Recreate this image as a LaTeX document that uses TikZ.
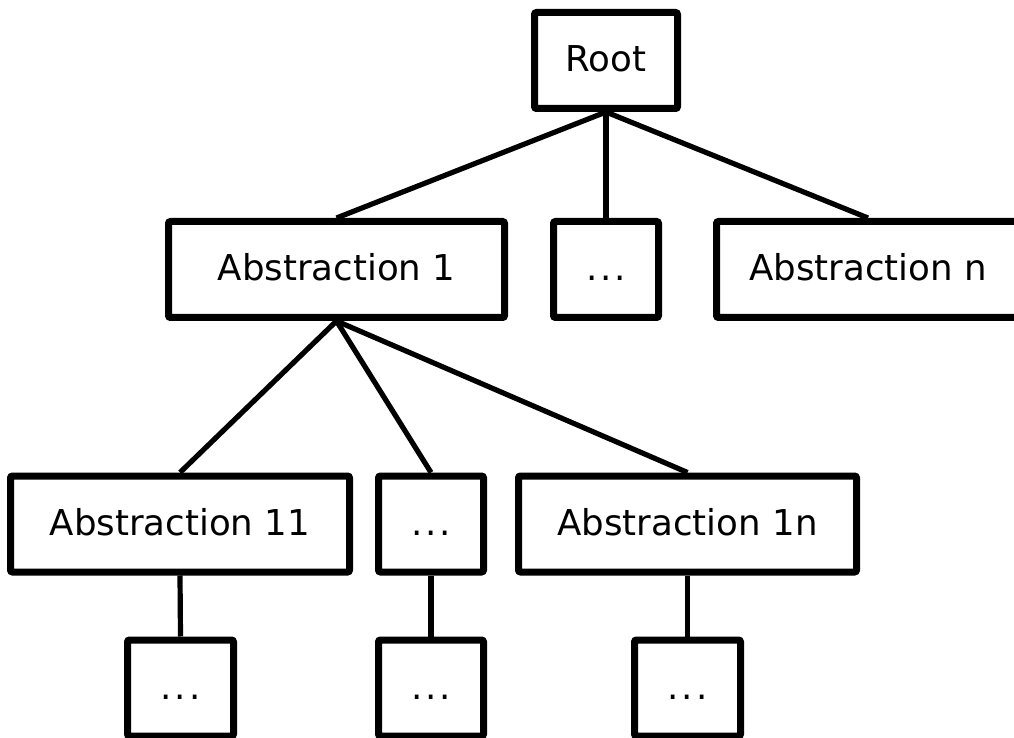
\documentclass[tikz,border=0pt]{standalone}
\usepackage{fontspec}
\setmainfont{DejaVu Sans}
\newcommand{\dotsthree}{.\kern1.5pt.\kern1.5pt.}
\begin{document}
\begin{tikzpicture}[x=0.5pt,y=-0.5pt,
  box/.style={draw=black, line width=3.5pt, rounded corners=1pt, fill=white,
    inner sep=0pt, font=\fontsize{17.8}{20}\selectfont, minimum height=48pt,
    text height=13pt, text depth=2pt},
  link/.style={line width=2.6pt}]
\useasboundingbox (0,0) rectangle (1014,738);
% row 1
\node[box, minimum width=71.5pt] (root) at (606,60.5) {Root};
% row 2
\node[box, minimum width=168pt] (a1) at (336.5,269.5) {Abstraction 1};
\node[box, minimum width=52.5pt] (ad) at (606,269.5) {\dotsthree};
\node[box, minimum width=151.5pt] (an) at (868,269.5) {Abstraction n};
% row 3
\node[box, minimum width=169.5pt] (a11) at (180,524) {Abstraction 11};
\node[box, minimum width=52.5pt] (a1d) at (431,524) {\dotsthree};
\node[box, minimum width=169pt] (a1n) at (687.5,524) {Abstraction 1n};
% row 4
\node[box, minimum width=53pt] (b1) at (180.5,688) {\dotsthree};
\node[box, minimum width=52.5pt] (b2) at (431,688) {\dotsthree};
\node[box, minimum width=53pt] (b3) at (687.5,688) {\dotsthree};
% connectors
\draw[link] (root.south) -- (a1.north);
\draw[link] (root.south) -- (ad.north);
\draw[link] (root.south) -- (an.north);
\draw[link] (a1.south) -- (a11.north);
\draw[link] (a1.south) -- (a1d.north);
\draw[link] (a1.south) -- (a1n.north);
\draw[link] (a11.south) -- (b1.north);
\draw[link] (a1d.south) -- (b2.north);
\draw[link] (a1n.south) -- (b3.north);
\end{tikzpicture}
\end{document}
